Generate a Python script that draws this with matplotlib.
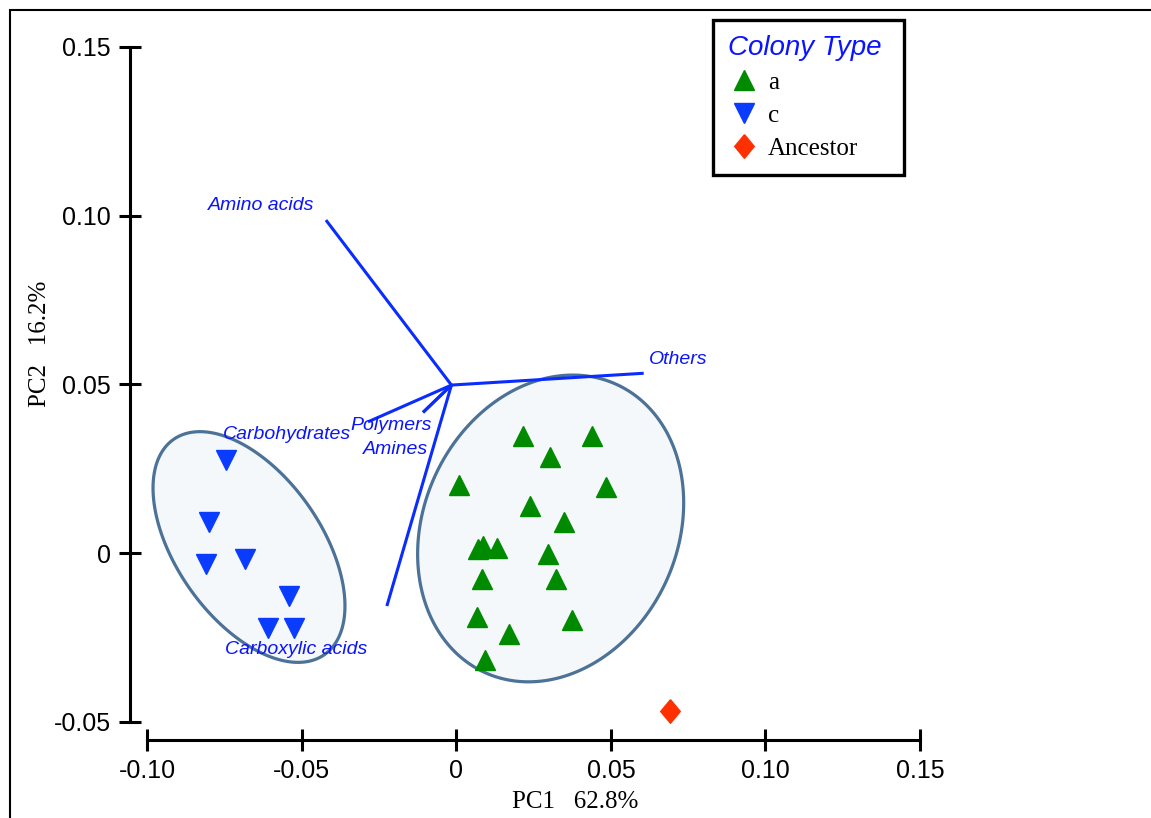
import numpy as np
import matplotlib.pyplot as plt
from matplotlib.lines import Line2D
from matplotlib.patches import Rectangle
from matplotlib.path import Path

# PCA scores per colony type
a_pc1 = [0.0214, 0.0440, 0.0302, 0.0009, 0.0483, 0.0237, 0.0348, 0.0086,
         0.0069, 0.0133, 0.0297, 0.0321, 0.0084, 0.0067, 0.0374, 0.0171, 0.0094]
a_pc2 = [0.0348, 0.0348, 0.0284, 0.0201, 0.0196, 0.0140, 0.0092, 0.0022,
         0.0012, 0.0015, -0.0002, -0.0076, -0.0076, -0.0190, -0.0198, -0.0241, -0.0316]
c_pc1 = [-0.0746, -0.0800, -0.0811, -0.0683, -0.0540, -0.0608, -0.0525]
c_pc2 = [0.0276, 0.0093, -0.0031, -0.0018, -0.0127, -0.0223, -0.0223]
anc_pc1 = [0.0692]
anc_pc2 = [-0.0469]

# substrate-group loadings, drawn from a shared origin
load_names = ['Amino acids', 'Others', 'Carbohydrates', 'Polymers', 'Amines', 'Carboxylic acids']
load_origin = (-0.0016, 0.0498)
load_pc1 = [-0.0422, 0.0606, -0.0286, -0.0108, -0.0108, -0.0225]
load_pc2 = [0.0987, 0.0533, 0.0389, 0.0417, 0.0417, -0.0157]
label_pc1 = [-0.0631, 0.0718, -0.0549, -0.0211, -0.0198, -0.0518]
label_pc2 = [0.1031, 0.0575, 0.0350, 0.0379, 0.0308, -0.0287]

# group ellipses: centre and two half-axis vectors
ell_c = dict(center=(-0.0671, 0.0018), u=(0.0244, -0.0319), v=(-0.0192, -0.0123))
ell_a = dict(center=(0.0305, 0.0073), u=(0.0213, 0.0427), v=(0.0374, -0.0156))

xticks = [-0.10, -0.05, 0, 0.05, 0.10, 0.15]
xtick_labels = ['-0.10', '-0.05', '0', '0.05', '0.10', '0.15']
yticks = [-0.05, 0, 0.05, 0.10, 0.15]
ytick_labels = ['-0.05', '0', '0.05', '0.10', '0.15']

green = '#008a00'
blue = '#0a3cff'
red = '#ff3000'
vec_col = '#0a2cff'
txt_col = '#0a14ff'

fig = plt.figure(figsize=(11.51, 8.18), dpi=100)
ax = fig.add_axes([130/1151, 78/818, 790/1151, 693/818])
ax.set_xlim(-0.1056, 0.15)
ax.set_ylim(-0.0554, 0.15)


def draw_ellipse(e):
    t = np.linspace(0, 2*np.pi, 300)
    cx, cy = e['center']
    x = cx + np.cos(t)*e['u'][0] + np.sin(t)*e['v'][0]
    y = cy + np.cos(t)*e['u'][1] + np.sin(t)*e['v'][1]
    ax.fill(x, y, facecolor='#f4f8fb', edgecolor='#4d7298', lw=2.3, zorder=1)


draw_ellipse(ell_c)
draw_ellipse(ell_a)

for x1, y1 in zip(load_pc1, load_pc2):
    ax.plot([load_origin[0], x1], [load_origin[1], y1], color=vec_col, lw=2.2,
             solid_capstyle='butt', zorder=2)
for name, lx, ly in zip(load_names, label_pc1, label_pc2):
    ax.text(lx, ly, name, color=txt_col, style='italic', fontsize=14,
            family='Liberation Sans', ha='center', va='center', zorder=4)

ax.plot(a_pc1, a_pc2, '^', color=green, ms=14.5, ls='none', zorder=3)
ax.plot(c_pc1, c_pc2, 'v', color=blue, ms=14.5, ls='none', zorder=3)
diamond = Path([(0, 1), (0.83, 0), (0, -1), (-0.83, 0), (0, 1)])
ax.plot(anc_pc1, anc_pc2, marker=diamond, color=red, ms=17, ls='none', zorder=3)

# offset spines
for s in ['top', 'right']:
    ax.spines[s].set_visible(False)
ax.spines['left'].set_bounds(-0.05, 0.15)
ax.spines['bottom'].set_bounds(-0.10, 0.15)
ax.spines['left'].set_linewidth(2.2)
ax.spines['bottom'].set_linewidth(2.2)
ax.set_xticks(xticks)
ax.set_xticklabels(xtick_labels)
ax.set_yticks(yticks)
ax.set_yticklabels(ytick_labels)
ax.tick_params(direction='inout', length=16, width=2.2, labelsize=18, pad=6)
for lab in ax.get_xticklabels() + ax.get_yticklabels():
    lab.set_family('Liberation Sans')

fig.text(575/1151, 1 - 802/818, 'PC1   62.8%', family='Liberation Serif',
         fontsize=18, ha='center', va='center')
fig.text(40/1151, 1 - 344/818, 'PC2   16.2%', family='Liberation Serif',
         fontsize=18, ha='center', va='center', rotation=90)

handles = [
    Line2D([], [], marker='^', color=green, ms=14.5, ls='none'),
    Line2D([], [], marker='v', color=blue, ms=14.5, ls='none'),
    Line2D([], [], marker=diamond, color=red, ms=17, ls='none'),
]
leg = ax.legend(handles, ['a', 'c', 'Ancestor'], title='Colony Type',
                loc='upper left',
                bbox_to_anchor=(713/1151, 1 - 20/818, 191/1151, 0.0),
                mode='expand',
                bbox_transform=fig.transFigure, borderaxespad=0,
                prop={'family': 'Liberation Serif', 'size': 18},
                alignment='left', frameon=True, fancybox=False, framealpha=1,
                handletextpad=0.3, labelspacing=0.42, borderpad=0.6,
                handlelength=1.3)
leg.get_title().set_color('#0a14ff')
leg.get_title().set_fontstyle('italic')
leg.get_title().set_fontfamily('Liberation Sans')
leg.get_title().set_fontsize(20)
leg.get_frame().set_edgecolor('black')
leg.get_frame().set_linewidth(2.4)
leg.get_frame().set_facecolor('white')

# outer frame
fig.add_artist(Rectangle((10/1151, -0.01), 1.0, 1 - 10/818 + 0.01,
                         transform=fig.transFigure, fill=False, lw=1.5,
                         edgecolor='black', clip_on=False))

fig.savefig('out.png', dpi=100)
